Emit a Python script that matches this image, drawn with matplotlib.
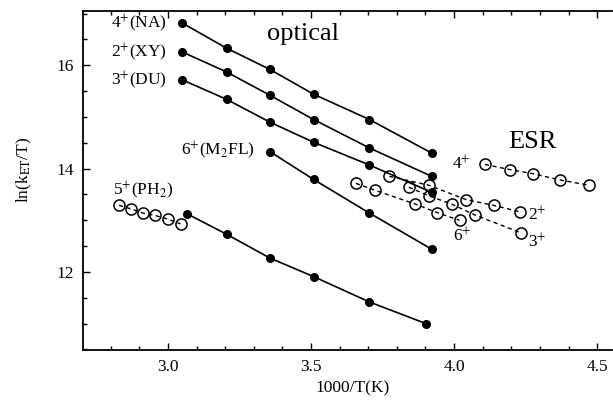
import matplotlib
matplotlib.use("Agg")
import matplotlib.pyplot as plt
from matplotlib.ticker import MultipleLocator

plt.rcParams['font.family'] = ['Liberation Serif', 'DejaVu Serif']
plt.rcParams['mathtext.fontset'] = 'stix'

# ---- optical data (filled circles, solid lines) ----
opt_4_x = [3.049, 3.205, 3.356, 3.509, 3.704, 3.922]
opt_4_y = [16.82, 16.33, 15.92, 15.44, 14.95, 14.30]
opt_2_x = [3.049, 3.205, 3.356, 3.509, 3.704, 3.922]
opt_2_y = [16.26, 15.87, 15.42, 14.95, 14.40, 13.85]
opt_3_x = [3.049, 3.205, 3.356, 3.509, 3.704, 3.922]
opt_3_y = [15.72, 15.34, 14.90, 14.51, 14.07, 13.54]
opt_6_x = [3.356, 3.509, 3.704, 3.922]
opt_6_y = [14.33, 13.79, 13.14, 12.44]
opt_5_x = [3.065, 3.205, 3.356, 3.509, 3.704, 3.902]
opt_5_y = [13.13, 12.73, 12.27, 11.91, 11.42, 11.00]

# ---- ESR data (open circles, dashed lines) ----
esr_4_x = [4.108, 4.196, 4.277, 4.371, 4.470]
esr_4_y = [14.08, 13.98, 13.90, 13.78, 13.68]
esr_2_x = [3.774, 3.911, 4.042, 4.138, 4.229]
esr_2_y = [13.85, 13.68, 13.40, 13.29, 13.165]
esr_3_x = [3.842, 3.911, 3.993, 4.072, 4.234]
esr_3_y = [13.64, 13.475, 13.31, 13.105, 12.757]
esr_6_x = [3.657, 3.724, 3.864, 3.942, 4.019]
esr_6_y = [13.715, 13.58, 13.315, 13.146, 13.00]
esr_5_x = [2.829, 2.871, 2.912, 2.954, 3.001, 3.044]
esr_5_y = [13.29, 13.22, 13.14, 13.095, 13.02, 12.93]

fig = plt.figure(figsize=(6.13, 4.0), dpi=100)
ax = fig.add_axes([83/613, 50/400, 529/613, 339/400])

optical = [(opt_4_x, opt_4_y), (opt_2_x, opt_2_y), (opt_3_x, opt_3_y),
           (opt_6_x, opt_6_y), (opt_5_x, opt_5_y)]
esr = [(esr_4_x, esr_4_y), (esr_2_x, esr_2_y), (esr_3_x, esr_3_y),
       (esr_6_x, esr_6_y), (esr_5_x, esr_5_y)]

for xs, ys in esr:
    ax.plot(xs, ys, color='black', lw=1.0, ls=(0, (3, 2.5)),
            marker='o', ms=8.0, mfc='none', mec='black', mew=1.1, zorder=2)
for xs, ys in optical:
    ax.plot(xs, ys, color='black', lw=1.2, ls='-',
            marker='o', ms=5.5, mfc='black', mec='black', zorder=3)

ax.set_xlim(2.703, 4.552)
ax.set_ylim(10.49, 17.05)
ax.xaxis.set_major_locator(MultipleLocator(0.5))
ax.xaxis.set_minor_locator(MultipleLocator(0.1))
ax.yaxis.set_major_locator(MultipleLocator(2))
ax.yaxis.set_minor_locator(MultipleLocator(0.5))
ax.xaxis.set_major_formatter(plt.FuncFormatter(lambda v, p: f"{v:.1f}"))
ax.yaxis.set_major_formatter(plt.FuncFormatter(lambda v, p: f"{v:.0f}"))
ax.tick_params(which='both', direction='in', top=True, right=False,
               labelsize=12.5, width=1.0)
ax.tick_params(which='major', length=5, pad=6.5)
ax.tick_params(which='minor', length=3)
for s in ax.spines.values():
    s.set_linewidth(1.3)
ax.spines['right'].set_visible(False)

fs = 12.5
ax.text(2.997, 16.82, r"4$^{+}$(NA)", ha='right', va='center', fontsize=fs)
ax.text(2.997, 16.26, r"2$^{+}$(XY)", ha='right', va='center', fontsize=fs)
ax.text(2.997, 15.72, r"3$^{+}$(DU)", ha='right', va='center', fontsize=fs)
ax.text(3.304, 14.35, r"6$^{+}$(M$_2$FL)", ha='right', va='center', fontsize=fs)
ax.text(2.808, 13.59, r"5$^{+}$(PH$_2$)", ha='left', va='center', fontsize=fs)
ax.text(3.346, 16.49, "optical", ha='left', va='baseline', fontsize=19)
ax.text(4.189, 14.39, "ESR", ha='left', va='baseline', fontsize=19)
ax.text(4.059, 14.09, r"4$^{+}$", ha='right', va='center', fontsize=fs)
ax.text(4.26, 13.09, r"2$^{+}$", ha='left', va='center', fontsize=fs)
ax.text(4.26, 12.57, r"3$^{+}$", ha='left', va='center', fontsize=fs)
ax.text(4.028, 12.70, r"6$^{+}$", ha='center', va='center', fontsize=fs)

ax.text(0.51, -0.112, "1000/T(K)", transform=ax.transAxes,
        ha='center', va='center', fontsize=12.5)
ax.text(-0.1115, 0.531, r"ln(k$_{\mathrm{ET}}$/T)", transform=ax.transAxes,
        ha='center', va='center', rotation=90, fontsize=12.5)

fig.savefig("out.png", dpi=100)
